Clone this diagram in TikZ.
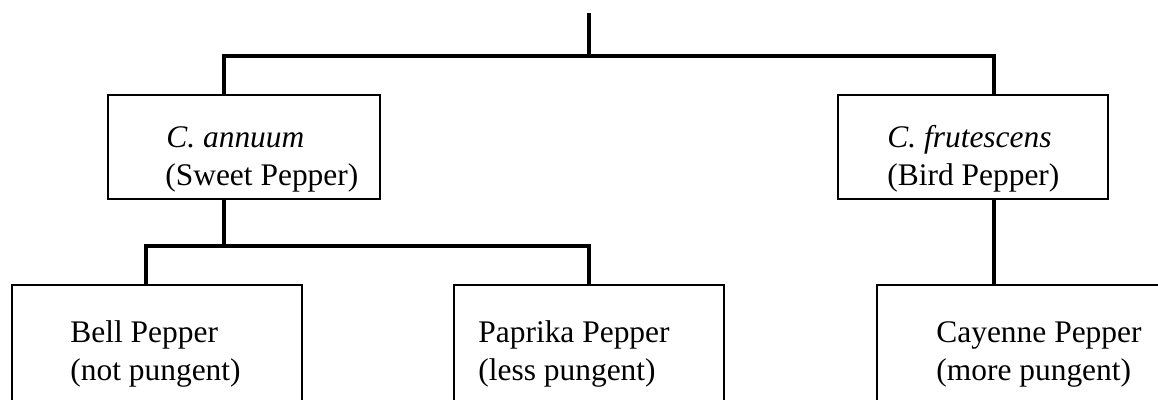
\documentclass[tikz,border=0pt]{standalone}
\usepackage{fontspec}
\setmainfont{Liberation Serif}
\usetikzlibrary{calc}

\tikzset{
  box/.style={draw=black, line width=0.8pt, inner sep=0pt},
  conn/.style={draw=black, line width=2.1pt},
  txt/.style={inner sep=0pt, anchor=base west, font=\fontsize{17.9}{21}\selectfont},
}

\begin{document}
\begin{tikzpicture}[x=0.02cm, y=-0.02cm]

\useasboundingbox (0,0) rectangle (1158,399);
\clip (0,0) rectangle (1158,399);

% species
\node[box, minimum width=5.44cm, minimum height=2.08cm] (annuum) at (244,147) {};
\node[box, minimum width=5.40cm, minimum height=2.08cm] (frut) at (973,147) {};

\node[txt] (annuum-sp) at (166,147) {\textit{C. annuum}};
\node[txt] (annuum-cn) at (165,185) {(Sweet Pepper)};
\node[txt] (frut-sp) at (887,147) {\textit{C. frutescens}};
\node[txt] (frut-cn) at (887,185) {(Bird Pepper)};

% varieties
\node[box, minimum width=5.80cm, minimum height=3.2cm] (bell) at (157,365) {};
\node[box, minimum width=5.40cm, minimum height=3.2cm] (paprika) at (589,365) {};
\node[box, minimum width=6.46cm, minimum height=3.2cm] (cayenne) at (1038.5,365) {};

\node[txt] (bell-a) at (70,342) {Bell Pepper};
\node[txt] (bell-b) at (70,380) {(not pungent)};
\node[txt] (paprika-a) at (478,342) {Paprika Pepper};
\node[txt] (paprika-b) at (478,380) {(less pungent)};
\node[txt] (cayenne-a) at (936,342) {Cayenne Pepper};
\node[txt] (cayenne-b) at (936,380) {(more pungent)};

% tree lines
\coordinate (root) at (589,13);
\coordinate (fork) at (589,56);
\draw[conn] (root) -- (fork);
\draw[conn] ($(annuum.north west)+(117,0)$) |- (fork) -| ($(frut.north east)+(-115,0)$);

\draw[conn] ($(annuum.south west)+(117,0)$) -- ++(0,46) coordinate (subfork);
\draw[conn] ($(bell.north west)+(135,0)$) |- (subfork) -| (paprika.north);

\coordinate (frut-stub) at ($(frut.south east)+(-115,0)$);
\draw[conn] (frut-stub) -- (frut-stub |- cayenne.north);

\end{tikzpicture}
\end{document}
